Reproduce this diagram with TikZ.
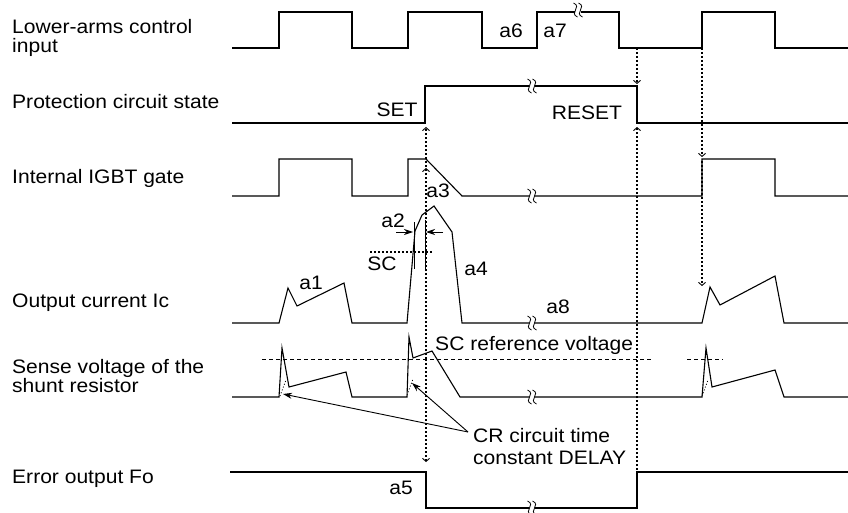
\documentclass[tikz,border=0pt]{standalone}
\usepackage{fontspec}
\setmainfont{Liberation Sans}[FakeStretch=1.08]
\usetikzlibrary{arrows.meta}

\begin{document}
\begin{tikzpicture}[x=1pt,y=-1pt,
  font=\fontsize{19.5}{19}\selectfont,
  wave/.style={line width=1.1pt,line join=miter},
  lbl/.style={anchor=west,align=left,inner sep=0pt},
  tag/.style={inner sep=0pt},
  cue/.style={line width=1.4pt,dash pattern=on 1.6pt off 2.4pt,
    -{Straight Barb[length=3pt,width=7pt,line width=0.9pt]}},
  ref/.style={line width=0.8pt,dash pattern=on 4pt off 3pt},
  ptr/.style={line width=0.9pt,-{Stealth[length=9pt,width=6pt]}},
  brk/.pic={\fill[white] (-3,-4) rectangle (3,4);
    \foreach \d in {-2.5,2.5}
      \draw[line width=0.8pt] (\d-2,-7) .. controls (\d+7,-3) and (\d-7,3) .. (\d+2,7);}]
\useasboundingbox (0,0) rectangle (848,513);

\node[lbl] (input) at (12,38) {Lower-arms control\\input};
\node[lbl] (prot) at (12,102) {Protection circuit state};
\node[lbl] (gate) at (12,178) {Internal IGBT gate};
\node[lbl] (ic) at (12,303) {Output current Ic};
\node[lbl] (sense) at (12,376) {Sense voltage of the\\shunt resistor};
\node[lbl] (fo) at (12,479) {Error output Fo};

\draw[wave] (232,48) -- (279,48) -- (279,12) -- (352,12) -- (352,48) -- (408,48)
  -- (408,12) -- (482,12) -- (482,48) -- (537,48) -- (537,12) -- (619,12)
  -- (619,48) -- (702,48) -- (702,12) -- (775,12) -- (775,48) -- (848,48);
\draw[wave] (232,123) -- (425,123) -- (425,86) -- (637,86) -- (637,123) -- (848,123);
\draw[wave] (232,196) -- (279,196) -- (279,159) -- (352,159) -- (352,196) -- (408,196)
  -- (408,159) -- (426,159) -- (462,196) -- (702,196) -- (702,159) -- (775,159)
  -- (775,196) -- (848,196);
\draw[wave] (232,323) -- (279,323) -- (288,288) -- (297,306) -- (344,283) -- (352,323)
  -- (407,323) -- (415,231) -- (422,215) -- (434,206) -- (452,232) -- (462,323)
  -- (702,323) -- (710,287) -- (720,305) -- (775,276) -- (784,323) -- (848,323);
\draw[wave] (232,397) -- (279,397) -- (282,348) -- (289,387) -- (346,372) -- (352,397)
  -- (407,397) -- (409,337) -- (413,358) -- (432,351) -- (460,397) -- (702,397)
  -- (706,348) -- (712,387) -- (775,370) -- (784,397) -- (848,397);
\draw[wave] (230,472) -- (426,472) -- (426,508) -- (637,508) -- (637,472) -- (848,472);

\foreach \y in {86,196,323,397,508}
  \pic at (532,\y) {brk};
\pic at (578,10) {brk};

\draw[ref] (262,359) -- (653,359);
\draw[ref] (687,359) -- (723,359);
\draw[line width=1.4pt,dash pattern=on 1.6pt off 2.4pt] (370,252) -- (433,252);
\foreach \x/\y in {280/396,407/395,702/396}
  \draw[line width=0.8pt,dash pattern=on 1pt off 2pt] (\x,\y) -- ++(6,-16);

\draw[line width=0.9pt] (414,222) -- (414,269);
\draw[line width=0.9pt] (425,220) -- (425,269);
\coordinate (l2) at (396,232);
\coordinate (l2e) at (413,232);
\coordinate (r2) at (443,232);
\coordinate (r2e) at (426,232);
\draw[ptr] (l2) -- (l2e);
\draw[ptr] (r2) -- (r2e);

\node[tag] (a1) at (311,283) {a1};
\node[tag] (a2) at (393,221) {a2};
\node[tag] (a3) at (438,191) {a3};
\node[tag] (a4) at (476,269) {a4};
\node[tag] (a5) at (401,488) {a5};
\node[tag] (a6) at (511,31) {a6};
\node[tag] (a7) at (555,31) {a7};
\node[tag] (a8) at (558,307) {a8};
\node[tag] (sc) at (382,264) {SC};
\node[tag] (set) at (397,110) {SET};
\node[tag] (reset) at (587,113) {RESET};
\node[tag,anchor=west] (scref) at (435,345) {SC reference voltage};
\node[lbl,font=\fontsize{19.5}{22}\selectfont] (cr) at (473,447) {CR circuit time\\constant DELAY};

\coordinate (trip) at (426,359);
\coordinate (toset) at (426,127);
\coordinate (togate) at (426,168);
\coordinate (tofo) at (426,462);
\draw[cue] (trip) -- (toset);
\draw[cue] (trip) -- (togate);
\draw[cue] (trip) -- (tofo);

\coordinate (off) at (637,48);
\coordinate (toreset) at (637,84);
\coordinate (forise) at (637,470);
\coordinate (fromfo) at (637,127);
\draw[cue] (off) -- (toreset);
\draw[cue] (forise) -- (fromfo);

\coordinate (on) at (702,48);
\coordinate (togon) at (702,157);
\coordinate (gon) at (702,161);
\coordinate (toic) at (702,286);
\draw[cue] (on) -- (togon);
\draw[cue] (gon) -- (toic);

\coordinate (crs) at (468,432);
\coordinate (d1) at (283,394);
\coordinate (d2) at (412,383);
\draw[ptr] (crs) -- (d1);
\draw[ptr] (crs) -- (d2);
\end{tikzpicture}
\end{document}
